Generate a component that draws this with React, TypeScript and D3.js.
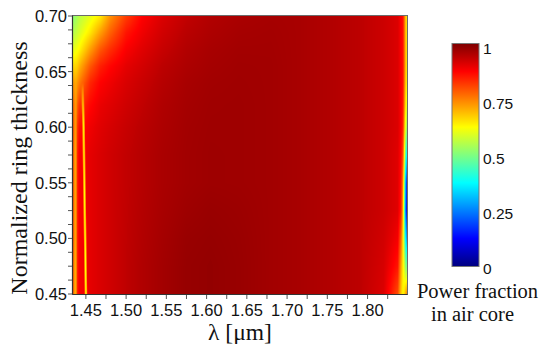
import React, { useMemo } from "react";
import * as d3 from "d3";

// wavelength knots (µm) of the sampled field
const lambdaKnots = [
  1.434, 1.4357, 1.4376, 1.4395, 1.4415, 1.4556, 1.468, 1.48, 1.5, 1.52, 1.545, 1.575, 1.605,
  1.64, 1.68, 1.715, 1.755, 1.79, 1.82, 1.8375, 1.8415, 1.844, 1.8458, 1.8476, 1.849,
];
// normalized ring thickness rows
const thicknessRows = [0.7, 0.685, 0.67, 0.655, 0.64, 0.62, 0.6, 0.575, 0.55, 0.525, 0.5, 0.475, 0.45];
// power fraction in air core (rows follow thicknessRows, columns follow lambdaKnots)
const powerFraction = [
  [0.51, 0.52, 0.53, 0.54, 0.555, 0.6, 0.645, 0.73, 0.815, 0.875, 0.91, 0.935, 0.95, 0.958, 0.962, 0.96, 0.95, 0.94, 0.925, 0.91, 0.88, 0.86, 0.77, 0.67, 0.66],
  [0.55, 0.56, 0.565, 0.575, 0.585, 0.65, 0.72, 0.78, 0.855, 0.89, 0.92, 0.943, 0.955, 0.962, 0.964, 0.96, 0.95, 0.94, 0.925, 0.91, 0.88, 0.86, 0.77, 0.67, 0.66],
  [0.6, 0.605, 0.61, 0.62, 0.63, 0.72, 0.79, 0.83, 0.88, 0.905, 0.93, 0.95, 0.96, 0.965, 0.965, 0.96, 0.95, 0.94, 0.925, 0.91, 0.88, 0.86, 0.77, 0.67, 0.66],
  [0.66, 0.665, 0.665, 0.675, 0.695, 0.79, 0.845, 0.87, 0.9, 0.918, 0.94, 0.955, 0.963, 0.967, 0.966, 0.96, 0.95, 0.94, 0.925, 0.91, 0.88, 0.86, 0.77, 0.67, 0.65],
  [0.73, 0.72, 0.71, 0.73, 0.75, 0.84, 0.875, 0.89, 0.912, 0.928, 0.946, 0.96, 0.966, 0.968, 0.966, 0.96, 0.95, 0.94, 0.925, 0.91, 0.88, 0.86, 0.76, 0.66, 0.64],
  [0.78, 0.75, 0.72, 0.78, 0.82, 0.87, 0.895, 0.905, 0.922, 0.936, 0.952, 0.963, 0.968, 0.969, 0.966, 0.96, 0.95, 0.94, 0.925, 0.91, 0.88, 0.85, 0.74, 0.63, 0.6],
  [0.81, 0.75, 0.72, 0.82, 0.86, 0.89, 0.905, 0.915, 0.93, 0.942, 0.955, 0.965, 0.969, 0.969, 0.966, 0.96, 0.95, 0.94, 0.925, 0.91, 0.88, 0.84, 0.7, 0.57, 0.54],
  [0.81, 0.74, 0.71, 0.84, 0.88, 0.9, 0.912, 0.922, 0.935, 0.946, 0.958, 0.966, 0.97, 0.969, 0.966, 0.96, 0.95, 0.94, 0.925, 0.905, 0.87, 0.8, 0.62, 0.42, 0.36],
  [0.81, 0.74, 0.71, 0.84, 0.88, 0.9, 0.912, 0.922, 0.935, 0.946, 0.958, 0.966, 0.97, 0.969, 0.966, 0.96, 0.95, 0.94, 0.925, 0.905, 0.86, 0.74, 0.5, 0.24, 0.15],
  [0.81, 0.74, 0.71, 0.84, 0.88, 0.9, 0.912, 0.922, 0.936, 0.948, 0.96, 0.97, 0.975, 0.972, 0.966, 0.96, 0.95, 0.94, 0.925, 0.905, 0.85, 0.7, 0.45, 0.2, 0.12],
  [0.81, 0.74, 0.71, 0.84, 0.88, 0.9, 0.912, 0.922, 0.937, 0.95, 0.963, 0.975, 0.978, 0.974, 0.966, 0.96, 0.95, 0.94, 0.92, 0.885, 0.78, 0.65, 0.5, 0.33, 0.28],
  [0.8, 0.73, 0.7, 0.84, 0.88, 0.9, 0.912, 0.922, 0.938, 0.952, 0.965, 0.977, 0.98, 0.975, 0.966, 0.96, 0.95, 0.94, 0.915, 0.855, 0.72, 0.64, 0.58, 0.5, 0.5],
  [0.8, 0.73, 0.7, 0.84, 0.88, 0.9, 0.912, 0.922, 0.938, 0.952, 0.965, 0.977, 0.98, 0.975, 0.966, 0.96, 0.95, 0.94, 0.91, 0.8, 0.68, 0.63, 0.66, 0.72, 0.75],
];
// narrow slanted low-fraction line near 1.45 µm
const ridgeThickness = [0.645, 0.62, 0.6, 0.55, 0.5, 0.45];
const ridgeLambda = [1.4457, 1.4464, 1.4472, 1.4481, 1.4491, 1.4501];
const ridgeValue = [0.8, 0.68, 0.64, 0.63, 0.62, 0.62];
const ridgeHalfWidth = 0.0022;

const xTickLabels = ["1.45", "1.50", "1.55", "1.60", "1.65", "1.70", "1.75", "1.80"];
const yTickLabels = ["0.45", "0.50", "0.55", "0.60", "0.65", "0.70"];
const colorTickLabels = ["0", "0.25", "0.5", "0.75", "1"];

const jetStops = [0, 0.125, 0.375, 0.625, 0.875, 1];
const jetColors = ["#00007f", "#0000ff", "#00ffff", "#ffff00", "#ff0000", "#7f0000"];

const W = 546;
const H = 344;
const PL = 73, PR = 407, PT = 16, PB = 294;

const x = d3.scaleLinear().domain([1.434, 1.849]).range([PL, PR]);
const y = d3.scaleLinear().domain([0.45, 0.7]).range([PB, PT]);
const jet = d3
  .scaleLinear<string>()
  .domain(jetStops)
  .range(jetColors)
  .interpolate(d3.interpolateRgb)
  .clamp(true);

const ridgeL = d3.scaleLinear().domain(ridgeThickness).range(ridgeLambda);
const ridgeV = d3.scaleLinear().domain(ridgeThickness).range(ridgeValue);

function sampleField(lam: number, t: number): number {
  let r = 0;
  while (r < thicknessRows.length - 2 && t < thicknessRows[r + 1]) r++;
  const t0 = thicknessRows[r], t1 = thicknessRows[r + 1];
  const ft = Math.max(0, Math.min(1, (t0 - t) / (t0 - t1)));
  let c = 0;
  while (c < lambdaKnots.length - 2 && lam > lambdaKnots[c + 1]) c++;
  const l0 = lambdaKnots[c], l1 = lambdaKnots[c + 1];
  const fl = Math.max(0, Math.min(1, (lam - l0) / (l1 - l0)));
  const a = powerFraction[r][c] * (1 - fl) + powerFraction[r][c + 1] * fl;
  const b = powerFraction[r + 1][c] * (1 - fl) + powerFraction[r + 1][c + 1] * fl;
  let v = a * (1 - ft) + b * ft;
  const tMax = ridgeThickness[0], tMin = ridgeThickness[ridgeThickness.length - 1];
  if (t <= tMax && t >= tMin) {
    const lc = ridgeL(t), rv = ridgeV(t);
    const d = Math.abs(lam - lc) / ridgeHalfWidth;
    if (d < 1) {
      const fade = Math.min(1, (tMax - t) / 0.01);
      const prof = rv + (v - rv) * Math.pow(d, 1.3);
      v = Math.min(v, v + (prof - v) * fade);
    }
  }
  return v;
}

export default function App() {
  const url = useMemo(() => {
    const w = PR - PL, h = PB - PT;
    const canvas = document.createElement("canvas");
    canvas.width = w;
    canvas.height = h;
    const ctx = canvas.getContext("2d");
    if (!ctx) return "";
    const img = ctx.createImageData(w, h);
    const lut: [number, number, number][] = [];
    for (let i = 0; i <= 1000; i++) {
      const c = d3.rgb(jet(i / 1000));
      lut.push([c.r, c.g, c.b]);
    }
    for (let j = 0; j < h; j++) {
      const t = y.invert(PT + j + 0.5);
      for (let i = 0; i < w; i++) {
        const lam = x.invert(PL + i + 0.5);
        const v = Math.max(0, Math.min(1, sampleField(lam, t)));
        const col = lut[Math.round(v * 1000)];
        const k = (j * w + i) * 4;
        img.data[k] = col[0];
        img.data[k + 1] = col[1];
        img.data[k + 2] = col[2];
        img.data[k + 3] = 255;
      }
    }
    ctx.putImageData(img, 0, 0);
    return canvas.toDataURL();
  }, []);

  const xMinor = d3.range(0, 16).map((i) => 1.45 + i * 0.025);
  const yMinor = d3.range(0, 21).map((i) => 0.45 + i * 0.0125);

  const cbX = 452, cbW = 27, cbTop = 43.5, cbBot = 266.5;
  const cbLabelY = d3.scaleLinear().domain([0, 1]).range([268, 48]);

  const sans = "'Liberation Sans', Arial, Helvetica, sans-serif";
  const serif = "'Liberation Serif', 'Times New Roman', serif";

  return (
    <svg width={W} height={H} style={{ position: "absolute", left: 0, top: 0, background: "#fff" }}>
      <defs>
        <linearGradient id="jetbar" x1="0" y1="1" x2="0" y2="0">
          {jetStops.map((s, i) => (
            <stop key={i} offset={s} stopColor={jetColors[i]} />
          ))}
        </linearGradient>
      </defs>
      <rect x={0} y={0} width={W} height={H} fill="#fff" />
      <image href={url} x={PL} y={PT} width={PR - PL} height={PB - PT} preserveAspectRatio="none" />
      <rect x={PL - 0.5} y={PT - 0.5} width={PR - PL + 1} height={PB - PT + 1} fill="none" stroke="#6b6b6b" strokeWidth={1} />
      <line x1={PL - 0.5} x2={PL - 0.5} y1={PT - 0.5} y2={PB + 0.5} stroke="#333" strokeWidth={1.2} />
      <line x1={PL - 0.5} x2={PR + 0.5} y1={PB + 0.5} y2={PB + 0.5} stroke="#333" strokeWidth={1.2} />
      {xMinor.map((v, i) => (
        <line key={"xm" + i} x1={x(v)} x2={x(v)} y1={PB + 1} y2={PB + 5} stroke="#555" strokeWidth={1} />
      ))}
      {yMinor.map((v, i) => (
        <line key={"ym" + i} x1={PL - 5} x2={PL - 1} y1={y(v)} y2={y(v)} stroke="#555" strokeWidth={1} />
      ))}
      {xTickLabels.map((s, i) => (
        <text key={"xl" + i} x={x(+s)} y={316} textAnchor="middle" fontFamily={sans} fontSize={16.5} fill="#111">
          {s}
        </text>
      ))}
      {yTickLabels.map((s, i) => (
        <text key={"yl" + i} x={67} y={y(+s) + 6} textAnchor="end" fontFamily={sans} fontSize={16.5} fill="#111">
          {s}
        </text>
      ))}
      <text x={x(1.6415)} y={340} textAnchor="middle" fontFamily={serif} fontSize={23.5} fill="#111">
        λ [μm]
      </text>
      <text transform="translate(27,168) rotate(-90)" textAnchor="middle" fontFamily={serif} fontSize={24} fill="#111">
        Normalized ring thickness
      </text>
      <rect x={cbX} y={cbTop} width={cbW} height={cbBot - cbTop} fill="url(#jetbar)" stroke="#777" strokeWidth={1} />
      {colorTickLabels.map((s, i) => (
        <text key={"cl" + i} x={483} y={cbLabelY(+s) + 5.5} fontFamily={sans} fontSize={15.5} fill="#111">
          {s}
        </text>
      ))}
      <text x={477.5} y={298} textAnchor="middle" fontFamily={serif} fontSize={20.5} fill="#111">
        Power fraction
      </text>
      <text x={472.5} y={321} textAnchor="middle" fontFamily={serif} fontSize={20.5} fill="#111">
        in air core
      </text>
    </svg>
  );
}
